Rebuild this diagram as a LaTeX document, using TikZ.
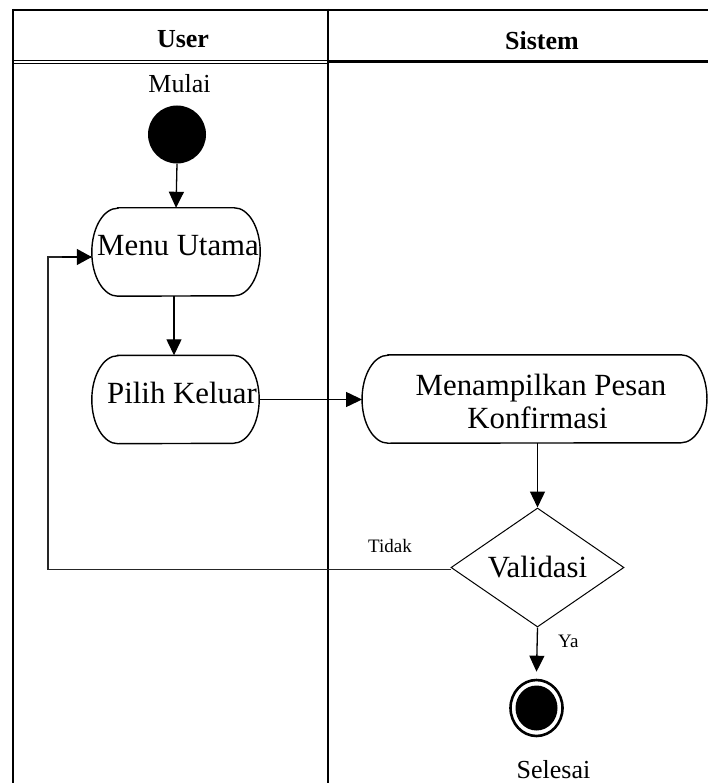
\documentclass[tikz,border=0pt]{standalone}
\usepackage{fontspec}
\setmainfont{Liberation Serif}
\usetikzlibrary{arrows.meta,shapes.geometric}

% outline of an action state: straight top and bottom, half-ellipse ends
\newcommand\actoutline[1]{%
  \draw[boxline] ([xshift=26pt]#1.north west) -- ([xshift=-26pt]#1.north east)
    arc[start angle=90,end angle=-90,x radius=26pt,y radius=44pt]
    -- ([xshift=26pt]#1.south west)
    arc[start angle=270,end angle=90,x radius=26pt,y radius=44pt] -- cycle;}

\tikzset{
  lane/.style={line width=2pt,black},
  boxline/.style={line width=1.4pt},
  actbox/.style={rectangle,draw=none,inner sep=0pt,minimum height=88pt},
  flow/.style={line width=1.3pt,-{Triangle[length=16pt,width=15pt]}},
  plain/.style={line width=1.6pt,draw=black!85},
  txt/.style={inner sep=0pt,font=\fontsize{30.8}{34}\selectfont},
  mid/.style={inner sep=0pt,font=\fontsize{26}{30}\selectfont},
  hdr/.style={inner sep=0pt,font=\fontsize{26}{30}\selectfont\bfseries},
  tag/.style={inner sep=0pt,font=\fontsize{19}{22}\selectfont},
}

\begin{document}
\begin{tikzpicture}[x=1pt,y=-1pt]
\useasboundingbox (0,0) rectangle (708,783);
\clip (0,0) rectangle (708,783);

% swimlane frame
\draw[lane] (13,10) -- (712,10);
\draw[lane] (13,9) -- (13,790);
\draw[lane] (328,9) -- (328,790);
\draw[line width=1.2pt] (13,60.3) -- (328,60.3);
\draw[line width=1.2pt] (13,63.2) -- (328,63.2);
\draw[line width=2.6pt] (328,61.5) -- (712,61.5);

% lane titles
\node[hdr,anchor=base] (userlbl) at (183,47.5) {User};
\node[hdr,anchor=base] (sistemlbl) at (542,49.5) {Sistem};

% start
\node[mid,anchor=base] (mulai) at (179.5,93) {Mulai};
\node[circle,fill=black,minimum size=58pt,inner sep=0pt] (start) at (177,134.5) {};

% actions
\node[actbox,minimum width=168pt] (menu) at (176,252) {};
\actoutline{menu}
\node[txt,anchor=base west] (menutxt) at (97,255) {Menu Utama};

\node[actbox,minimum width=167pt] (pilih) at (175.5,399.5) {};
\actoutline{pilih}
\node[txt,anchor=base west] (pilihtxt) at (107,403) {Pilih Keluar};

\node[actbox,minimum width=344.5pt] (tampil) at (534.5,399) {};
\actoutline{tampil}
\node[txt,anchor=base] (tampiltxt1) at (541,395) {Menampilkan Pesan};
\node[txt,anchor=base] (tampiltxt2) at (537.5,428) {Konfirmasi};

% decision
\node[diamond,draw,line width=1pt,aspect=1.45,minimum width=173pt,
      minimum height=119pt,inner sep=0pt,txt] (valid) at (537.5,567.5) {Validasi};

% end
\node[ellipse,draw,line width=2.6pt,minimum width=52pt,minimum height=56pt,inner sep=0pt,
      path picture={\fill[black] (path picture bounding box.center)
                    ellipse[x radius=21pt,y radius=22.5pt];}]
      (end) at (536.5,708) {};
\node[mid,anchor=base,text depth=0pt] (selesai) at (553.5,778) {Selesai};

% flows
\draw[flow] (start.south) -- (menu.north);
\draw[flow] ([xshift=-2pt]menu.south) -- ([xshift=-1.5pt]pilih.north);
\draw[flow] (pilih.east) -- (pilih.east -| tampil.west);
\draw[flow] (valid.north |- tampil.south) -- (valid.north);
\draw[flow] (valid.south) -- ([yshift=7pt]end.north);
\node[tag,anchor=base west] (ya) at (558,647) {Ya};

\coordinate (loop) at (48,570);
\draw[plain] ([yshift=-2pt]valid.west) -- ([yshift=-2pt]valid.west -| loop)
  |- ([yshift=-5pt]menu.west);
\draw[flow,-{Triangle[length=15pt,width=16pt]}] ([yshift=-5pt,xshift=-30pt]menu.west) -- ([yshift=-5pt]menu.west);
\node[tag,anchor=base west] (tidak) at (368,552) {Tidak};
\end{tikzpicture}
\end{document}
